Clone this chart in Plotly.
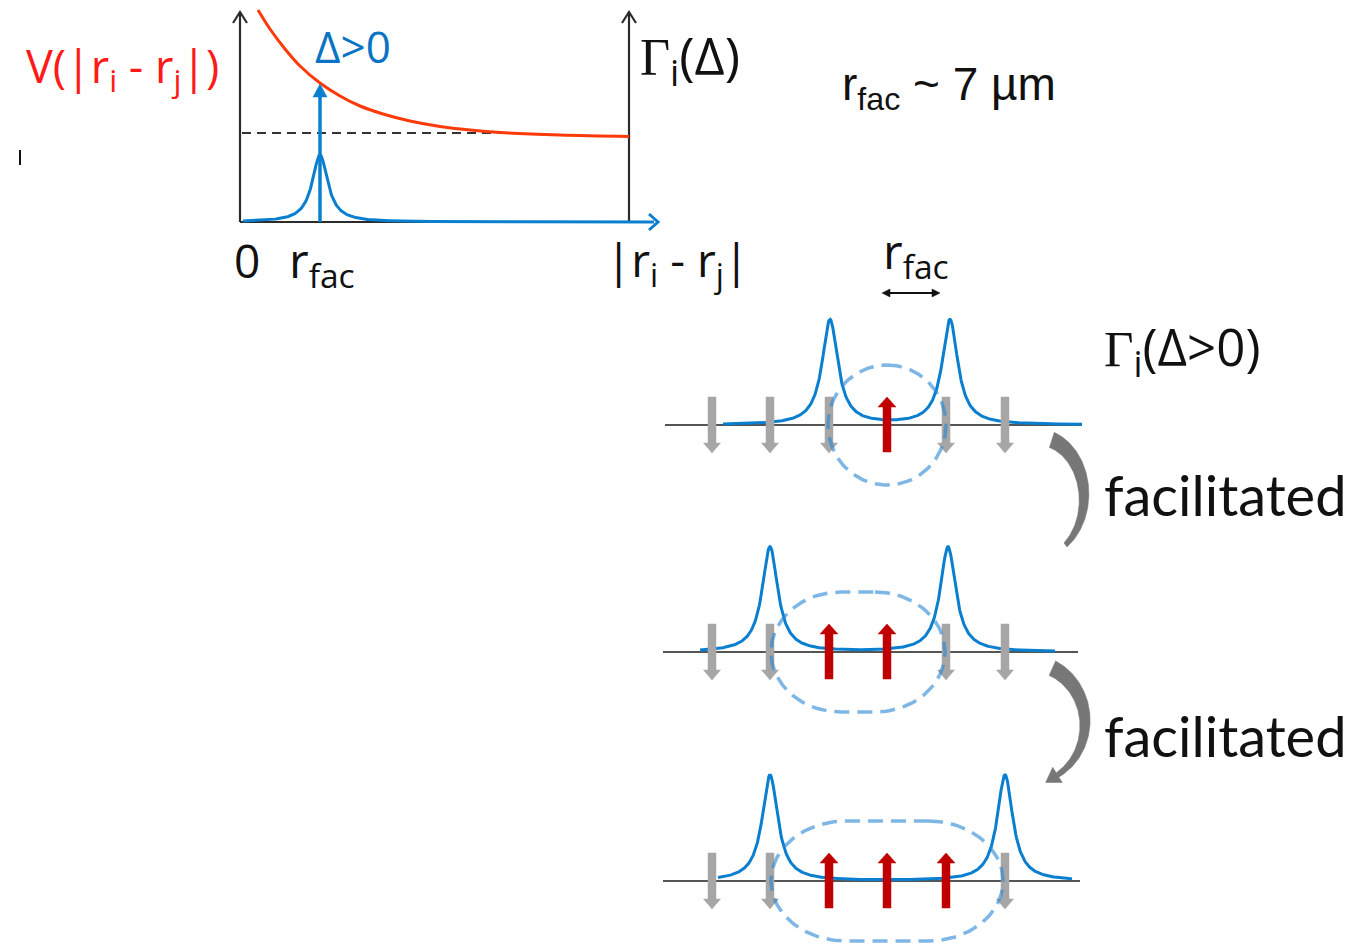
import numpy as np
import plotly.graph_objects as go

# ---------------- data (diagram space, pixel-like units) ----------------
# top graph: interaction potential V(|ri-rj|) sampled along the distance axis
pot_r = [258, 270, 285, 300, 320, 340, 360, 383, 410, 440, 470, 500, 560, 629]
pot_v = [10, 29, 49, 66, 83, 96, 106, 114, 121, 126.5, 130, 132.5, 135, 136.5]
thr_level = 133           # dashed threshold (laser detuning)
thr_extent = [242, 505]
rfac_pos = 320            # facilitation distance
rfac_level = 84           # where the Δ arrow meets V
rate_peak_height = 67     # height of Γ(Δ) Lorentzian in top graph
rate_width = 9.5
top_base = 222
top_axes_x = [240, 629]
top_axes_top = 12
top_xaxis_end = 658

# chain panels
panel_base = [425, 652, 881]
atoms_x = [712, 770, 829, 887, 946, 1005]
panel_states = [
    ["down", "down", "down", "up", "down", "down"],
    ["down", "down", "up", "up", "down", "down"],
    ["down", "down", "up", "up", "up", "down"],
]
panel_peaks = [[830, 950], [770, 948], [770, 1005]]
panel_peak_height = [105, 105, 106]
peak_width = 9.5
panel_curve_span = [[723, 1082], [700, 1055], [718, 1072]]
panel_line_span = [[665, 1082], [663, 1078], [663, 1080]]
# dashed facilitation region: centre, half-width, corner radius
region_cx = [887, 858, 887]
region_hw = [59, 87, 116]
region_crx = [59, 70, 75]
region_hh = 60

# curved "facilitated" arrows: ellipse centre, radii, start/end angles (deg)
curl_cx = [1037.5, 1030]
curl_cy = [497, 723]
curl_rx = [46.5, 55]
curl_ry = [60, 60]
curl_a0 = [-72, -66]
curl_a1 = [53, 60]
curl_head = [False, True]

SERIF_G = "<span style='font-family:Liberation Serif'>Γ</span>"
# labels
labels = [
    dict(t="V(|r<sub>i</sub> - r<sub>j</sub>|)", x=24, y=68, c="#ff1a1a", s=45, f="Open Sans"),
    dict(t="Δ>0", x=313, y=46, c="#0a74c4", s=44, f="Open Sans"),
    dict(t=SERIF_G + "<sub>i</sub>(Δ)", x=638, y=58, c="#111111", s=52, f="Open Sans"),
    dict(t="0", x=232, y=260, c="#111111", s=46, f="Open Sans"),
    dict(t="r<sub>fac</sub>", x=287, y=262, c="#111111", s=48, f="Open Sans"),
    dict(t="|r<sub>i</sub> - r<sub>j</sub>|", x=604, y=262, c="#111111", s=46, f="Open Sans"),
    dict(t="r<sub>fac</sub> ~ 7 µm", x=840, y=87, c="#111111", s=46, f="Liberation Sans"),
    dict(t="r<sub>fac</sub>", x=881, y=253, c="#111111", s=48, f="Open Sans"),
    dict(t=SERIF_G + "<sub>i</sub>(Δ>0)", x=1102, y=349, c="#111111", s=51, f="Open Sans"),
    dict(t="facilitated", x=1102, y=494, c="#111111", s=56, f="Lato"),
    dict(t="facilitated", x=1102, y=735, c="#111111", s=56, f="Lato"),
]

# ---------------- styles ----------------
BLUE = "#0a7fcf"
RED_CURVE = "#ff3a0a"
AXIS = "#2b2b2b"
GRAY_ARROW = "#a6a6a6"
RED_ARROW = "#c00000"
DASH_BLUE = "rgba(40,135,212,0.6)"
CURL = "#777777"

fig = go.Figure()


def line(xs, ys, color, width, dash=None, shape="linear"):
    fig.add_trace(go.Scatter(x=xs, y=ys, mode="lines", hoverinfo="skip",
                             line=dict(color=color, width=width, dash=dash, shape=shape)))


def poly(xs, ys, color):
    fig.add_trace(go.Scatter(x=list(xs) + [xs[0]], y=list(ys) + [ys[0]], mode="lines",
                             fill="toself", fillcolor=color, hoverinfo="skip",
                             line=dict(color=color, width=0.5)))


def lorentz(xs, centers, height, gamma):
    xs = np.asarray(xs, float)
    out = np.zeros_like(xs)
    for c in centers:
        out += height * gamma ** 2 / ((xs - c) ** 2 + gamma ** 2)
    return out


# ---------------- top graph ----------------
line([top_axes_x[0], top_axes_x[1]], [top_base, top_base], AXIS, 2.2)
for ax in top_axes_x:
    line([ax, ax], [top_base, top_axes_top], AXIS, 2.2)
    line([ax - 7, ax, ax + 7], [top_axes_top + 11, top_axes_top, top_axes_top + 11], AXIS, 2.2)
line(thr_extent, [thr_level, thr_level], "#333333", 2, dash="9px,6px")
line(pot_r, pot_v, RED_CURVE, 3, shape="spline")
xr = np.linspace(243, top_xaxis_end - 4, 500)
line(xr, top_base - lorentz(xr, [rfac_pos], rate_peak_height, rate_width), BLUE, 3)
line([top_xaxis_end - 9, top_xaxis_end, top_xaxis_end - 9],
     [top_base - 8, top_base, top_base + 8], BLUE, 3)
line([rfac_pos, rfac_pos], [top_base, rfac_level + 11], BLUE, 3.5)
poly([rfac_pos - 7, rfac_pos + 7, rfac_pos], [rfac_level + 13, rfac_level + 13, rfac_level], BLUE)
line([20, 20], [150, 165], "#111111", 2)

# ---------------- chain panels ----------------
for p, y0 in enumerate(panel_base):
    line(panel_line_span[p], [y0, y0], "#555555", 2)
    xs = np.linspace(panel_curve_span[p][0], panel_curve_span[p][1], 600)
    line(xs, y0 - lorentz(xs, panel_peaks[p], panel_peak_height[p], peak_width), BLUE, 3)
    for ax_, st in zip(atoms_x, panel_states[p]):
        if st == "down":
            px = [ax_ - 4, ax_ + 4, ax_ + 4, ax_ + 8.5, ax_, ax_ - 8.5, ax_ - 4]
            py = [y0 - 28, y0 - 28, y0 + 18, y0 + 18, y0 + 28, y0 + 18, y0 + 18]
            poly(px, py, GRAY_ARROW)
    for ax_, st in zip(atoms_x, panel_states[p]):
        if st == "up":
            px = [ax_ - 4, ax_ + 4, ax_ + 4, ax_ + 9, ax_, ax_ - 9, ax_ - 4]
            py = [y0 + 27, y0 + 27, y0 - 18, y0 - 18, y0 - 28, y0 - 18, y0 - 18]
            poly(px, py, RED_ARROW)
    cx, hw, crx, hh = region_cx[p], region_hw[p], region_crx[p], region_hh
    a = np.linspace(-np.pi / 2, np.pi / 2, 80)
    rx_c = cx + hw - crx
    lx_c = cx - hw + crx
    ex = np.concatenate([rx_c + crx * np.cos(a), lx_c - crx * np.cos(a), [rx_c]])
    ey = np.concatenate([y0 + hh * np.sin(a), y0 - hh * np.sin(a), [y0 - hh]])
    line(ex, ey, DASH_BLUE, 3.5, dash="15px,8px")

# r_fac double arrow
line([884, 938], [293, 293], "#111111", 2)
poly([882, 890, 890], [293, 289, 297], "#111111")
poly([940, 932, 932], [293, 289, 297], "#111111")

# ---------------- curved arrows ----------------
for k in range(2):
    cx, cy, rx, ry = curl_cx[k], curl_cy[k], curl_rx[k], curl_ry[k]
    th = np.radians(np.linspace(curl_a0[k], curl_a1[k], 120))
    t = np.linspace(0, 1, th.size)
    w = 16 * (1 - t) + 5 * t
    ox = cx + (rx + w / 2) * np.cos(th)
    oy = cy + (ry + w / 2) * np.sin(th)
    ix = cx + (rx - w / 2) * np.cos(th)
    iy = cy + (ry - w / 2) * np.sin(th)
    poly(list(ox) + list(ix[::-1]), list(oy) + list(iy[::-1]), CURL)
    if curl_head[k]:
        te = th[-1]
        ex, ey = cx + rx * np.cos(te), cy + ry * np.sin(te)
        dx, dy = -rx * np.sin(te), ry * np.cos(te)
        n = np.hypot(dx, dy)
        dx, dy = dx / n, dy / n
        nx, ny = -dy, dx
        tipx, tipy = ex + 14 * dx, ey + 14 * dy
        poly([ex + 9 * nx, tipx, ex - 9 * nx], [ey + 9 * ny, tipy, ey - 9 * ny], CURL)

# ---------------- labels ----------------
for L in labels:
    fig.add_annotation(x=L["x"], y=L["y"], xref="x", yref="y", text=L["t"], showarrow=False,
                       xanchor="left", yanchor="middle",
                       font=dict(family=L["f"], size=L["s"], color=L["c"]))

fig.update_layout(
    width=1352, height=946, margin=dict(l=0, r=0, t=0, b=0),
    paper_bgcolor="white", plot_bgcolor="white", showlegend=False,
    xaxis=dict(range=[0, 1352], visible=False, fixedrange=True),
    yaxis=dict(range=[946, 0], visible=False, fixedrange=True),
)
fig.write_html("out.html", config={"displayModeBar": False},
               post_script="document.body.style.margin='0px';")
